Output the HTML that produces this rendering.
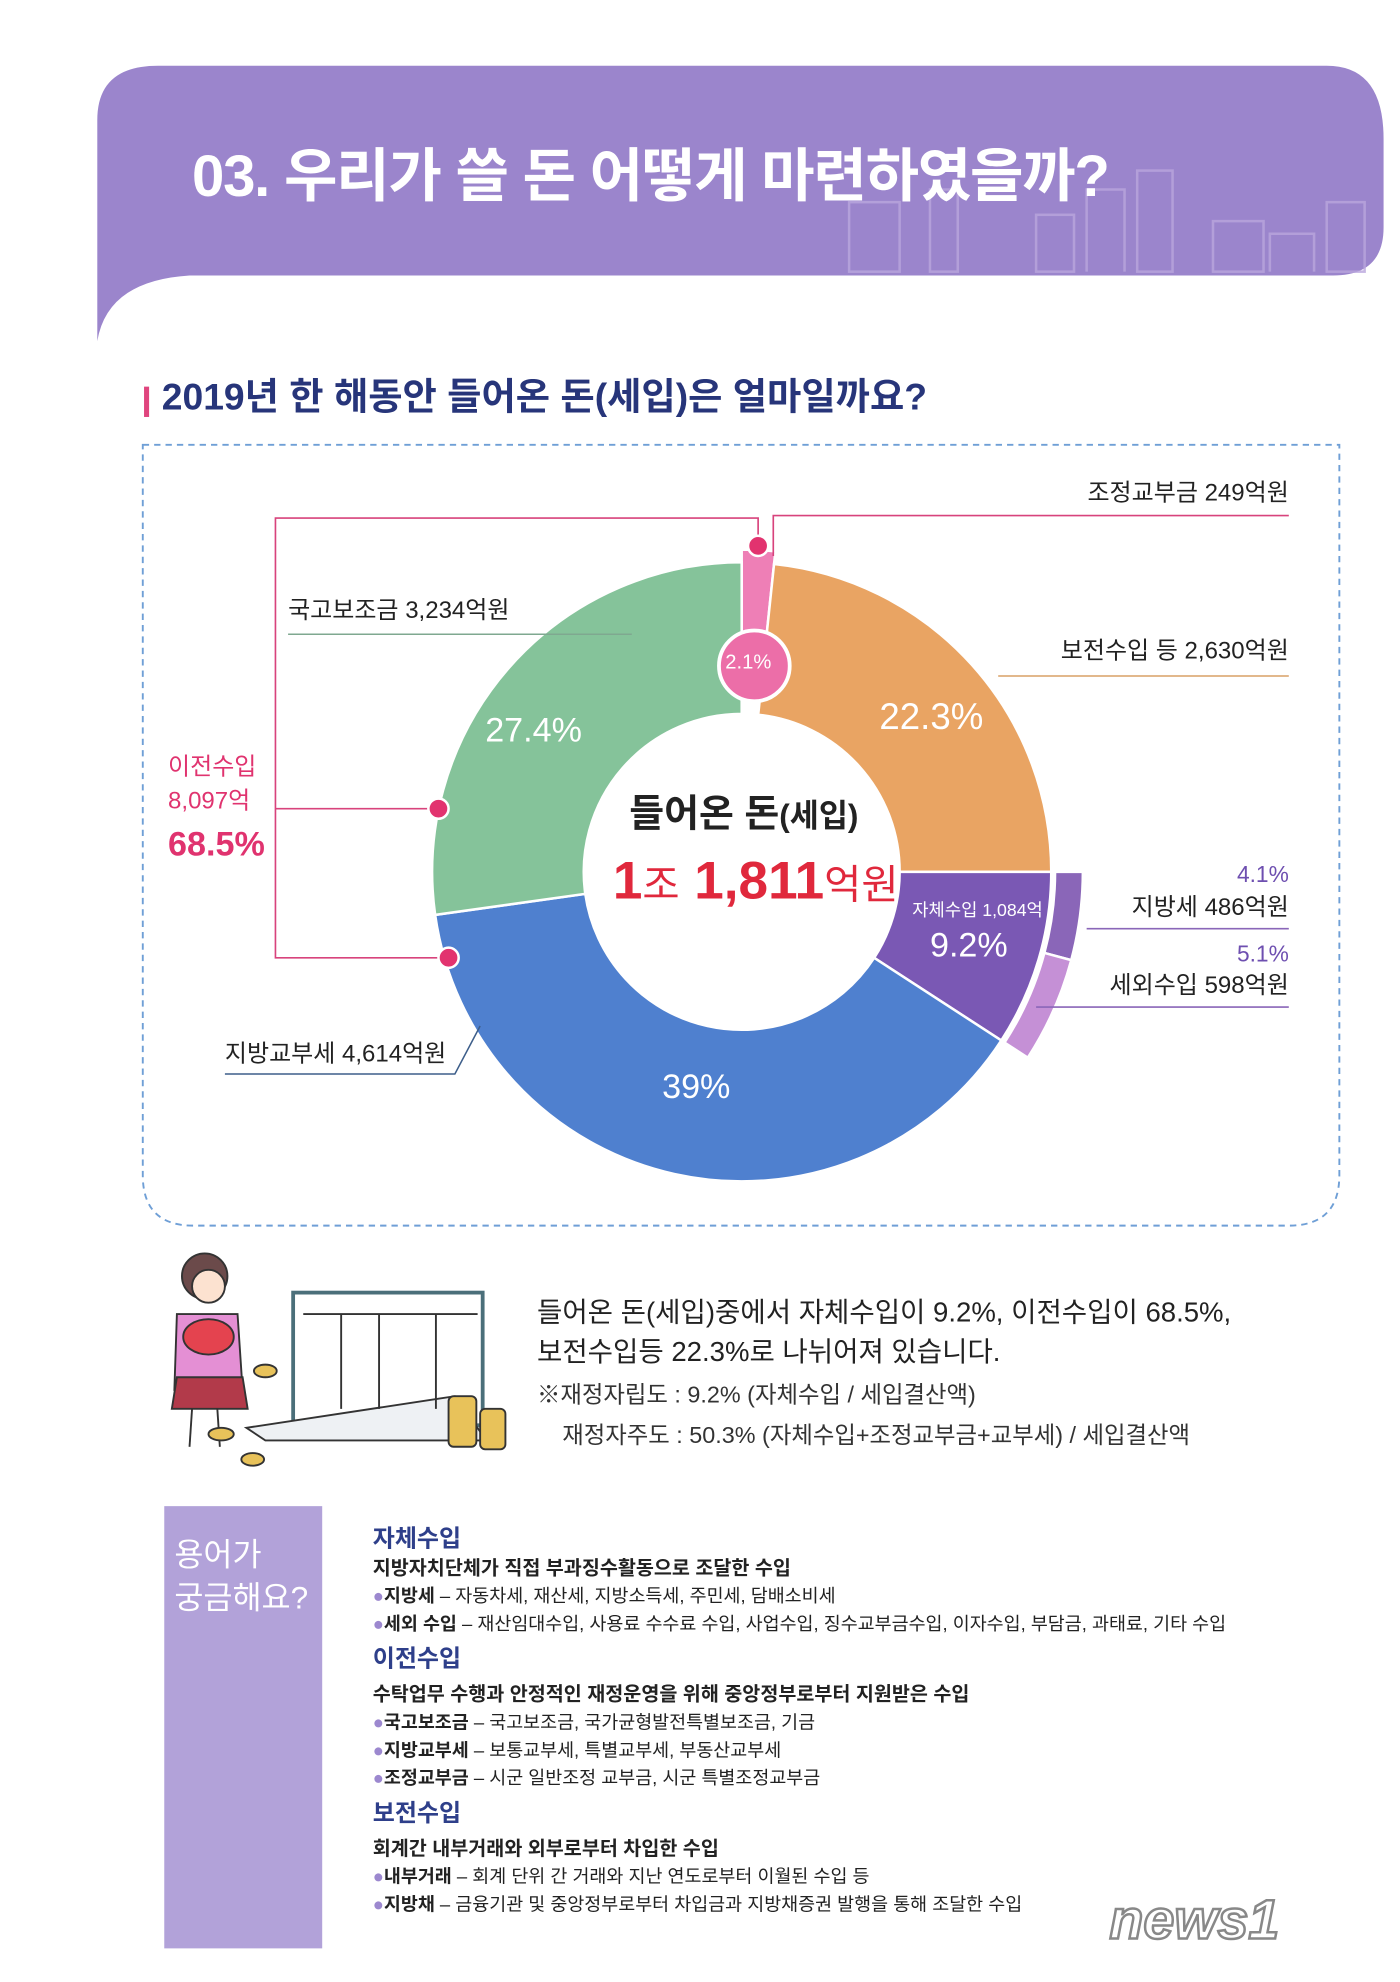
<!DOCTYPE html>
<html><head><meta charset="utf-8">
<style>
html,body{margin:0;padding:0;background:#fff;}
body{width:1400px;height:1982px;overflow:hidden;}
#stage{position:absolute;left:0;top:0;width:1108px;height:1568px;transform:scale(1.26354);transform-origin:0 0;font-family:"Liberation Sans","Noto Sans CJK KR",sans-serif;color:#222;}
.t{position:absolute;white-space:nowrap;line-height:1;}
.r{text-align:right;}
</style></head><body>
<div id="stage">
<svg width="1108" height="1568" style="position:absolute;left:0;top:0">
  <path d="M77,270 L77,95 Q77,52 125,52 L1050,52 Q1095,52 1095,110 L1095,180 Q1095,218 1055,218 L150,218 Q85,222 77,270 Z" fill="#9b85cc"/>
  <g fill="none" stroke="#b9a6dd" stroke-width="2" opacity="0.8">
    <rect x="672" y="160" width="40" height="55"/><rect x="736" y="150" width="22" height="65"/>
    <rect x="820" y="170" width="30" height="45"/><rect x="900" y="135" width="28" height="80"/>
    <rect x="960" y="175" width="40" height="40"/><rect x="1050" y="160" width="30" height="55"/>
    <path d="M860,215 L860,150 L890,150 L890,215 M1005,215 L1005,185 L1040,185 L1040,215"/>
  </g>
  <path d="M113,352 L1060,352 L1060,930 Q1060,970 1020,970 L153,970 Q113,970 113,930 Z" fill="none" stroke="#6f9fd6" stroke-width="1.5" stroke-dasharray="5,4"/>
  <rect x="114" y="306" width="4" height="24" fill="#e0457e"/>
  <g id="donut"></g>
  <g stroke="#d8437c" stroke-width="1.3" fill="none">
    <path d="M600,432 L600,410 L218,410 L218,758 L355,758 M218,640 L347,640"/>
    <path d="M612,440 L612,408 L1020,408"/>
    <path d="M820,797 L1020,797 M860,735 L1020,735" stroke="#8a66b8"/>
  </g>
  <line x1="228" y1="502" x2="500" y2="502" stroke="#7fa890" stroke-width="1.2"/>
  <line x1="790" y1="535" x2="1020" y2="535" stroke="#d9a066" stroke-width="1.2"/>
  <path d="M178,850 L360,850 L380,812" stroke="#3d5e8a" stroke-width="1.2" fill="none"/>
  <g fill="#e2336f" stroke="#fff" stroke-width="2">
    <circle cx="600" cy="432" r="8"/><circle cx="347" cy="640" r="8"/><circle cx="355" cy="758" r="8"/>
  </g>
  <circle cx="597" cy="527" r="28" fill="#ec6ea8" stroke="#fff" stroke-width="3"/>
  <g stroke="#333" stroke-width="1.5">
    <rect x="232" y="1023" width="150" height="105" fill="#fff" stroke="#4b6f7a" stroke-width="3"/>
    <path d="M195,1130 L360,1105 L385,1140 L210,1140 Z" fill="#eef1f4"/>
    <line x1="240" y1="1040" x2="378" y2="1040"/><line x1="270" y1="1040" x2="270" y2="1115"/><line x1="300" y1="1040" x2="300" y2="1115"/><line x1="345" y1="1040" x2="345" y2="1115"/>
    <circle cx="162" cy="1010" r="18" fill="#6b4a4a"/>
    <circle cx="165" cy="1018" r="13" fill="#fce2d0"/>
    <path d="M140,1040 L188,1040 L192,1100 L138,1100 Z" fill="#e48fd4"/>
    <path d="M140,1090 L192,1090 L196,1115 L136,1115 Z" fill="#b23a4a"/>
    <ellipse cx="165" cy="1058" rx="20" ry="14" fill="#e4434f"/>
    <line x1="152" y1="1115" x2="150" y2="1145"/><line x1="172" y1="1115" x2="174" y2="1145"/>
    <g fill="#e8c25a"><ellipse cx="210" cy="1085" rx="9" ry="5"/><ellipse cx="175" cy="1135" rx="10" ry="5"/><ellipse cx="200" cy="1155" rx="9" ry="5"/>
    <rect x="355" y="1105" width="22" height="40" rx="4"/><rect x="380" y="1115" width="20" height="32" rx="4"/></g>
  </g>
  <rect x="130" y="1192" width="125" height="350" fill="#b2a2d9"/>
</svg>

<div class="t" style="left:152px;top:116px;font-size:46px;font-weight:bold;color:#fff;letter-spacing:-1px">03. 우리가 쓸 돈 어떻게 마련하였을까?</div>
<div class="t" style="left:128px;top:300px;font-size:29.5px;font-weight:bold;color:#27357a">2019년 한 해동안 들어온 돈(세입)은 얼마일까요?</div>

<div class="t r" style="right:88px;top:381px;font-size:19px">조정교부금 249억원</div>
<div class="t" style="left:228px;top:474px;font-size:19px">국고보조금 3,234억원</div>
<div class="t r" style="right:88px;top:506px;font-size:19px">보전수입 등 2,630억원</div>
<div class="t" style="left:133px;top:598px;font-size:19px;color:#e0336f">이전수입</div>
<div class="t" style="left:133px;top:625px;font-size:19px;color:#e0336f">8,097억</div>
<div class="t" style="left:133px;top:655px;font-size:27px;font-weight:bold;color:#e0336f">68.5%</div>
<div class="t r" style="right:88px;top:683px;font-size:18px;color:#6e4fb0">4.1%</div>
<div class="t r" style="right:88px;top:709px;font-size:19px">지방세 486억원</div>
<div class="t r" style="right:88px;top:746px;font-size:18px;color:#6e4fb0">5.1%</div>
<div class="t r" style="right:88px;top:771px;font-size:19px">세외수입 598억원</div>
<div class="t" style="left:178px;top:825px;font-size:19px">지방교부세 4,614억원</div>

<div class="t" style="left:574px;top:517px;font-size:16px;color:#fff">2.1%</div>
<div class="t" style="left:384px;top:565px;font-size:27px;color:#fff">27.4%</div>
<div class="t" style="left:696px;top:554px;font-size:29px;color:#fff">22.3%</div>
<div class="t" style="left:722px;top:713px;font-size:14px;color:#fff">자체수입 1,084억</div>
<div class="t" style="left:736px;top:735px;font-size:27px;color:#fff">9.2%</div>
<div class="t" style="left:524px;top:847px;font-size:27px;color:#fff">39%</div>
<div class="t" style="left:498px;top:630px;font-size:30px;font-weight:bold;color:#222">들어온 돈<span style="font-size:25px">(세입)</span></div>
<div class="t" style="left:485px;top:676px;font-size:42px;font-weight:bold;color:#e0283c">1<span style="font-size:32px;font-weight:normal">조</span> 1,811<span style="font-size:32px;font-weight:normal">억원</span></div>

<div class="t" style="left:425px;top:1028px;font-size:21.8px;color:#222">들어온 돈(세입)중에서 자체수입이 9.2%, 이전수입이 68.5%,</div>
<div class="t" style="left:425px;top:1059px;font-size:21.8px;color:#222">보전수입등 22.3%로 나뉘어져 있습니다.</div>
<div class="t" style="left:425px;top:1095px;font-size:18.5px;color:#333">※재정자립도 : 9.2% (자체수입 / 세입결산액)</div>
<div class="t" style="left:445px;top:1127px;font-size:18.5px;color:#333">재정자주도 : 50.3% (자체수입+조정교부금+교부세) / 세입결산액</div>

<div class="t" style="left:138px;top:1214px;font-size:25px;color:#fff;line-height:34px">용어가<br>궁금해요?</div>
<div style="position:absolute;left:295px;top:1207px;font-size:14.6px;line-height:22px;color:#222;white-space:nowrap">
<div style="font-size:19px;font-weight:bold;color:#2e3f8a;line-height:24px">자체수입</div>
<div style="font-size:15.5px;font-weight:bold">지방자치단체가 직접 부과징수활동으로 조달한 수입</div>
<div><span style="color:#9c88cf">●</span><b>지방세</b> – 자동차세, 재산세, 지방소득세, 주민세, 담배소비세</div>
<div><span style="color:#9c88cf">●</span><b>세외 수입</b> – 재산임대수입, 사용료 수수료 수입, 사업수입, 징수교부금수입, 이자수입, 부담금, 과태료, 기타 수입</div>
<div style="font-size:19px;font-weight:bold;color:#2e3f8a;line-height:34px">이전수입</div>
<div style="font-size:15.5px;font-weight:bold">수탁업무 수행과 안정적인 재정운영을 위해 중앙정부로부터 지원받은 수입</div>
<div><span style="color:#9c88cf">●</span><b>국고보조금</b> – 국고보조금, 국가균형발전특별보조금, 기금</div>
<div><span style="color:#9c88cf">●</span><b>지방교부세</b> – 보통교부세, 특별교부세, 부동산교부세</div>
<div><span style="color:#9c88cf">●</span><b>조정교부금</b> – 시군 일반조정 교부금, 시군 특별조정교부금</div>
<div style="font-size:19px;font-weight:bold;color:#2e3f8a;line-height:34px">보전수입</div>
<div style="font-size:15.5px;font-weight:bold">회계간 내부거래와 외부로부터 차입한 수입</div>
<div><span style="color:#9c88cf">●</span><b>내부거래</b> – 회계 단위 간 거래와 지난 연도로부터 이월된 수입 등</div>
<div><span style="color:#9c88cf">●</span><b>지방채</b> – 금융기관 및 중앙정부로부터 차입금과 지방채증권 발행을 통해 조달한 수입</div>
</div>
<div class="t" style="left:878px;top:1498px;font-size:44px;font-style:italic;font-weight:bold;color:#fff;-webkit-text-stroke:2px #888">news1</div>
</div>
<script>
(function(){
 var cx=587,cy=690,g=document.getElementById('donut'),ns="http://www.w3.org/2000/svg";
 function p(a,r){var t=(a-90)*Math.PI/180;return [cx+r*Math.cos(t),cy+r*Math.sin(t)];}
 function arc(a0,a1,r0,r1,col){var A=p(a0,r1),B=p(a1,r1),C=p(a1,r0),D=p(a0,r0),L=(a1-a0)>180?1:0;
  var d="M"+A+" A"+r1+","+r1+" 0 "+L+" 1 "+B+" L"+C+" A"+r0+","+r0+" 0 "+L+" 0 "+D+"Z";
  var e=document.createElementNS(ns,"path");e.setAttribute("d",d);e.setAttribute("fill",col);e.setAttribute("stroke","#fff");e.setAttribute("stroke-width","2");g.appendChild(e);}
 arc(0,6,140,255,"#ee7fb6");
 arc(6,90,125,245,"#e9a463");
 arc(90,123,125,245,"#7a58b4");
 arc(123,262,125,245,"#4f80cf");
 arc(262,360,125,245,"#85c39a");
 arc(90,105,248,270,"#8a66b8");
 arc(105,123,248,270,"#c590d6");
})();
</script>
</body></html>
